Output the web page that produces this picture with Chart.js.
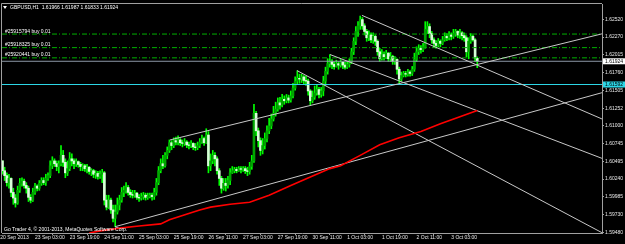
<!DOCTYPE html>
<html><head><meta charset="utf-8">
<script src="https://cdn.jsdelivr.net/npm/chart.js@4.4.0/dist/chart.umd.min.js"></script>
<style>html,body{margin:0;padding:0;background:#000;overflow:hidden}canvas{display:block}</style>
</head><body>
<canvas id="c" width="625" height="244"></canvas>
<script>
// ---- data (GBPUSD, H1) ----
const opens = [
1.6033,1.6050,1.6036,1.6029,1.6019,1.6025,1.6005,1.5997,1.5990,1.6008,
1.6018,1.6021,1.6015,1.6011,1.5998,1.5994,1.6005,1.6014,1.6011,1.6018,
1.6022,1.6019,1.6025,1.6029,1.6043,1.6050,1.6046,1.6042,1.6046,1.6058,
1.6048,1.6033,1.6039,1.6053,1.6050,1.6046,1.6049,1.6045,1.6042,1.6043,
1.6039,1.6041,1.6035,1.6036,1.6031,1.6032,1.6028,1.6031,1.6033,1.5994,
1.5984,1.5994,1.5980,1.5968,1.5977,1.5987,1.5994,1.6005,1.6008,1.6012,
1.6005,1.6002,1.6001,1.6004,1.5998,1.5997,1.5999,1.6001,1.5998,1.5999,
1.6001,1.5999,1.6005,1.6019,1.6036,1.6046,1.6043,1.6058,1.6065,1.6076,
1.6072,1.6079,1.6077,1.6080,1.6076,1.6075,1.6077,1.6073,1.6072,1.6075,
1.6070,1.6069,1.6072,1.6077,1.6082,1.6076,1.6087,1.6043,1.6050,1.6058,
1.6053,1.6036,1.6025,1.6011,1.6018,1.6015,1.6022,1.6033,1.6036,1.6038,
1.6036,1.6039,1.6038,1.6039,1.6036,1.6035,1.6042,1.6050,1.6118,1.6093,
1.6079,1.6065,1.6072,1.6082,1.6093,1.6100,1.6110,1.6118,1.6124,1.6133,
1.6130,1.6138,1.6136,1.6140,1.6137,1.6143,1.6154,1.6164,1.6168,1.6167,
1.6170,1.6165,1.6164,1.6150,1.6136,1.6141,1.6147,1.6152,1.6145,1.6150,
1.6164,1.6178,1.6189,1.6192,1.6188,1.6185,1.6189,1.6187,1.6191,1.6187,
1.6184,1.6188,1.6192,1.6206,1.6221,1.6235,1.6243,1.6252,1.6243,1.6235,
1.6226,1.6230,1.6223,1.6228,1.6221,1.6206,1.6196,1.6202,1.6199,1.6204,
1.6196,1.6199,1.6192,1.6195,1.6181,1.6167,1.6172,1.6175,1.6174,1.6177,
1.6175,1.6181,1.6195,1.6206,1.6211,1.6209,1.6213,1.6238,1.6242,1.6232,
1.6223,1.6218,1.6215,1.6221,1.6218,1.6223,1.6228,1.6226,1.6230,1.6228,
1.6232,1.6235,1.6230,1.6233,1.6229,1.6226,1.6206,1.6221,1.6228,1.6223,
1.61966];
const highs = [
1.6065,1.6050,1.6041,1.6033,1.6031,1.6026,1.6011,1.6002,1.6014,1.6025,
1.6026,1.6024,1.6019,1.6014,1.6002,1.6011,1.6018,1.6016,1.6022,1.6026,
1.6026,1.6031,1.6033,1.6050,1.6056,1.6053,1.6050,1.6050,1.6072,1.6065,
1.6053,1.6050,1.6062,1.6060,1.6053,1.6053,1.6050,1.6048,1.6046,1.6045,
1.6045,1.6042,1.6039,1.6038,1.6036,1.6035,1.6036,1.6038,1.6035,1.6001,
1.6001,1.5997,1.5987,1.5987,1.5997,1.6001,1.6012,1.6014,1.6019,1.6015,
1.6009,1.6008,1.6008,1.6005,1.6002,1.6004,1.6005,1.6004,1.6004,1.6004,
1.6004,1.6011,1.6025,1.6042,1.6053,1.6058,1.6062,1.6070,1.6080,1.6079,
1.6083,1.6084,1.6086,1.6082,1.6080,1.6082,1.6079,1.6077,1.6079,1.6076,
1.6075,1.6077,1.6082,1.6087,1.6084,1.6096,1.6092,1.6060,1.6065,1.6062,
1.6056,1.6039,1.6028,1.6025,1.6025,1.6028,1.6039,1.6042,1.6041,1.6041,
1.6042,1.6042,1.6042,1.6042,1.6041,1.6048,1.6058,1.6131,1.6121,1.6097,
1.6083,1.6082,1.6090,1.6100,1.6111,1.6117,1.6128,1.6134,1.6140,1.6141,
1.6145,1.6143,1.6145,1.6144,1.6150,1.6161,1.6170,1.6179,1.6174,1.6174,
1.6172,1.6171,1.6167,1.6152,1.6150,1.6157,1.6158,1.6155,1.6155,1.6171,
1.6184,1.6196,1.6202,1.6195,1.6192,1.6194,1.6192,1.6195,1.6192,1.6191,
1.6192,1.6196,1.6211,1.6226,1.6242,1.6249,1.6257,1.6255,1.6246,1.6238,
1.6236,1.6233,1.6233,1.6230,1.6223,1.6211,1.6209,1.6206,1.6208,1.6205,
1.6205,1.6201,1.6199,1.6196,1.6184,1.6177,1.6178,1.6178,1.6181,1.6179,
1.6185,1.6204,1.6213,1.6216,1.6215,1.6218,1.6249,1.6249,1.6246,1.6235,
1.6226,1.6222,1.6225,1.6223,1.6228,1.6233,1.6232,1.6235,1.6233,1.6238,
1.6238,1.6236,1.6238,1.6235,1.6233,1.6229,1.6226,1.6232,1.6230,1.6225,
1.61987];
const lows = [
1.6028,1.6031,1.6022,1.6014,1.6011,1.5999,1.5988,1.5984,1.5988,1.6005,
1.6014,1.6011,1.6004,1.5992,1.5990,1.5992,1.6002,1.6007,1.6008,1.6015,
1.6016,1.6015,1.6022,1.6026,1.6039,1.6042,1.6036,1.6033,1.6043,1.6042,
1.6026,1.6029,1.6036,1.6043,1.6039,1.6042,1.6041,1.6036,1.6036,1.6035,
1.6033,1.6031,1.6029,1.6026,1.6025,1.6024,1.6025,1.6019,1.5987,1.5980,
1.5982,1.5975,1.5963,1.5956,1.5974,1.5980,1.5991,1.5999,1.6004,1.6001,
1.5998,1.5997,1.5998,1.5995,1.5992,1.5994,1.5995,1.5994,1.5995,1.5997,
1.5994,1.5995,1.6001,1.6016,1.6033,1.6039,1.6041,1.6053,1.6062,1.6066,
1.6069,1.6073,1.6073,1.6072,1.6070,1.6072,1.6069,1.6067,1.6069,1.6066,
1.6065,1.6066,1.6069,1.6075,1.6072,1.6075,1.6033,1.6036,1.6046,1.6043,
1.6031,1.6015,1.6004,1.6008,1.6007,1.6011,1.6016,1.6032,1.6033,1.6033,
1.6035,1.6033,1.6035,1.6032,1.6029,1.6031,1.6038,1.6048,1.6086,1.6070,
1.6058,1.6060,1.6067,1.6077,1.6089,1.6096,1.6107,1.6114,1.6121,1.6124,
1.6127,1.6131,1.6133,1.6133,1.6134,1.6140,1.6151,1.6160,1.6161,1.6162,
1.6160,1.6158,1.6144,1.6130,1.6133,1.6138,1.6144,1.6140,1.6141,1.6143,
1.6158,1.6174,1.6184,1.6182,1.6181,1.6184,1.6181,1.6184,1.6182,1.6181,
1.6182,1.6184,1.6189,1.6202,1.6216,1.6228,1.6238,1.6238,1.6230,1.6221,
1.6222,1.6219,1.6218,1.6215,1.6201,1.6192,1.6194,1.6194,1.6196,1.6192,
1.6192,1.6188,1.6188,1.6174,1.6161,1.6164,1.6170,1.6170,1.6171,1.6171,
1.6172,1.6178,1.6192,1.6202,1.6204,1.6206,1.6211,1.6232,1.6226,1.6218,
1.6212,1.6211,1.6213,1.6213,1.6216,1.6221,1.6222,1.6223,1.6223,1.6225,
1.6228,1.6226,1.6225,1.6223,1.6221,1.6199,1.6196,1.6218,1.6221,1.6192,
1.61833];
const closes = [
1.6050,1.6036,1.6029,1.6019,1.6025,1.6005,1.5997,1.5990,1.6008,1.6018,
1.6021,1.6015,1.6011,1.5998,1.5994,1.6005,1.6014,1.6011,1.6018,1.6022,
1.6019,1.6025,1.6029,1.6043,1.6050,1.6046,1.6042,1.6046,1.6058,1.6048,
1.6033,1.6039,1.6053,1.6050,1.6046,1.6049,1.6045,1.6042,1.6043,1.6039,
1.6041,1.6035,1.6036,1.6031,1.6032,1.6028,1.6031,1.6033,1.5994,1.5984,
1.5994,1.5980,1.5968,1.5977,1.5987,1.5994,1.6005,1.6008,1.6012,1.6005,
1.6002,1.6001,1.6004,1.5998,1.5997,1.5999,1.6001,1.5998,1.5999,1.6001,
1.5999,1.6005,1.6019,1.6036,1.6046,1.6043,1.6058,1.6065,1.6076,1.6072,
1.6079,1.6077,1.6080,1.6076,1.6075,1.6077,1.6073,1.6072,1.6075,1.6070,
1.6069,1.6072,1.6077,1.6082,1.6076,1.6087,1.6043,1.6050,1.6058,1.6053,
1.6036,1.6025,1.6011,1.6018,1.6015,1.6022,1.6033,1.6036,1.6038,1.6036,
1.6039,1.6038,1.6039,1.6036,1.6035,1.6042,1.6050,1.6118,1.6093,1.6079,
1.6065,1.6072,1.6082,1.6093,1.6100,1.6110,1.6118,1.6124,1.6133,1.6130,
1.6138,1.6136,1.6140,1.6137,1.6143,1.6154,1.6164,1.6168,1.6167,1.6170,
1.6165,1.6164,1.6150,1.6136,1.6141,1.6147,1.6152,1.6145,1.6150,1.6164,
1.6178,1.6189,1.6192,1.6188,1.6185,1.6189,1.6187,1.6191,1.6187,1.6184,
1.6188,1.6192,1.6206,1.6221,1.6235,1.6243,1.6252,1.6243,1.6235,1.6226,
1.6230,1.6223,1.6228,1.6221,1.6206,1.6196,1.6202,1.6199,1.6204,1.6196,
1.6199,1.6192,1.6195,1.6181,1.6167,1.6172,1.6175,1.6174,1.6177,1.6175,
1.6181,1.6195,1.6206,1.6211,1.6209,1.6213,1.6238,1.6242,1.6232,1.6223,
1.6218,1.6215,1.6221,1.6218,1.6223,1.6228,1.6226,1.6230,1.6228,1.6232,
1.6235,1.6230,1.6233,1.6229,1.6226,1.6206,1.6221,1.6228,1.6223,1.6197,
1.61924];

// moving average (red), sampled bar positions
const maBars   = [41, 46, 55, 64, 74, 78, 83, 88, 92, 97, 106, 115, 124, 134, 143, 152, 157, 166, 175, 184, 194, 203, 212, 220];
const maValues = [1.5947,1.5950,1.5954,1.5957,1.5960,1.5966,1.5971,1.5976,1.5980,1.5984,1.5988,1.5991,1.6001,1.6015,1.6027,1.6039,1.6043,1.6058,1.6073,1.6083,1.6092,1.6103,1.6113,1.6122];

// trend lines (anchor bar, price) -> (end bar, price)
const trendX1 = [52.9, 78.3, 166.8, 152.1, 136.9];
const trendY1 = [1.5956, 1.6080, 1.6258, 1.6202, 1.6179];
const trendX2 = [277.5, 277.5, 277.5, 277.5, 277.5];
const trendY2 = [1.61475, 1.62316, 1.6110, 1.60537, 1.59475];

// horizontal levels
const orderPrices = [1.62313, 1.62119, 1.61973];
const orderLabels = ['#25915794 buy 0.01', '#25918325 buy 0.01', '#25920441 buy 0.01'];
const bidPrice = 1.61924;
const levelPrice = 1.61592;

// axes
const xTickBars = [0, 16, 32, 48, 64, 80, 96, 112, 128, 144, 160, 176, 192, 208];
const xTickLabels = ['20 Sep 2013','23 Sep 03:00','23 Sep 19:00','24 Sep 11:00','25 Sep 03:00','25 Sep 19:00','26 Sep 11:00','27 Sep 03:00','27 Sep 19:00','30 Sep 11:00','1 Oct 03:00','1 Oct 19:00','2 Oct 11:00','3 Oct 03:00'];
const yTickValues = [1.62520,1.62270,1.62015,1.61760,1.61505,1.61252,1.61000,1.60745,1.60495,1.60240,1.59985,1.59730,1.59480];
const xMin = 0.784, xMax = 277.53;
const yMin = 1.594701, yMax = 1.627425;

const titleText = 'GBPUSD,H1  1.61966 1.61987 1.61833 1.61924';
const copyText = 'Go Trader 4, \u00a9 2001-2013, MetaQuotes Software Corp.';

// ---- build ----
const FONT = '"Liberation Sans", Arial, sans-serif';
const bars = closes.map((c, i) => i);
const bull = i => closes[i] >= opens[i];

const datasets = [];
datasets.push({
  type: 'bar', label: 'wick', order: 20, grouped: false, barThickness: 1,
  data: bars.map(i => ({x: i, y: [lows[i], highs[i]]})),
  backgroundColor: '#00ff00', borderWidth: 0
});
datasets.push({
  type: 'bar', label: 'body', order: 19, grouped: false, barThickness: 2,
  data: bars.map(i => ({x: i, y: [opens[i], closes[i]]})),
  backgroundColor: ctx => bull(ctx.dataIndex) ? '#00a400' : '#d8ffd8', borderWidth: 0
});
orderPrices.forEach(p => datasets.push({
  type: 'line', order: 5, data: [{x: xMin, y: p}, {x: xMax, y: p}],
  borderColor: '#00b000', borderWidth: 1, borderDash: [5, 2, 1, 2], pointRadius: 0
}));
datasets.push({
  type: 'line', order: 4, data: [{x: xMin, y: bidPrice}, {x: xMax, y: bidPrice}],
  borderColor: '#8c98a6', borderWidth: 1, pointRadius: 0
});
datasets.push({
  type: 'line', order: 4, data: [{x: xMin, y: levelPrice}, {x: xMax, y: levelPrice}],
  borderColor: '#2cd6e6', borderWidth: 1, pointRadius: 0
});
trendX1.forEach((x1, k) => datasets.push({
  type: 'line', order: 3, data: [{x: x1, y: trendY1[k]}, {x: trendX2[k], y: trendY2[k]}],
  borderColor: '#c8c8c8', borderWidth: 1, pointRadius: 0
}));
datasets.push({
  type: 'line', order: 2, data: maBars.map((b, k) => ({x: b, y: maValues[k]})),
  borderColor: '#ff0000', borderWidth: 1.6, pointRadius: 0, tension: 0
});

const overlay = {
  id: 'overlay',
  beforeDatasetsDraw(chart) {
    const {ctx, chartArea: a} = chart;
    ctx.save();
    ctx.strokeStyle = '#a0a0a0';
    ctx.lineWidth = 1;
    ctx.beginPath();
    ctx.moveTo(a.left - 0.5, a.bottom);
    ctx.lineTo(a.left - 0.5, a.top - 0.5);
    ctx.lineTo(a.right, a.top - 0.5);
    ctx.stroke();
    ctx.restore();
  },
  afterDatasetsDraw(chart) {
    const {ctx, chartArea: a, scales: {y}} = chart;
    ctx.save();
    ctx.fillStyle = '#ffffff';
    ctx.font = '5px ' + FONT;
    ctx.textBaseline = 'middle';
    ctx.textAlign = 'left';
    ctx.fillText(titleText, a.left + 8, a.top + 3.5);
    ctx.beginPath();
    ctx.moveTo(a.left + 1, a.top + 2);
    ctx.lineTo(a.left + 5, a.top + 2);
    ctx.lineTo(a.left + 3, a.top + 5);
    ctx.closePath();
    ctx.fill();
    ctx.textBaseline = 'alphabetic';
    orderPrices.forEach((p, k) => ctx.fillText(orderLabels[k], a.left + 3, y.getPixelForValue(p) - 1.5));
    ctx.textBaseline = 'middle';
    ctx.fillText(copyText, a.left + 2, a.bottom - 3.5);
    ctx.restore();
  },
  afterDraw(chart) {
    const {ctx, chartArea: a, scales: {y}} = chart;
    ctx.save();
    ctx.font = '5px ' + FONT;
    ctx.textBaseline = 'middle';
    [[bidPrice, '#ffffff'], [levelPrice, '#2cd6e6']].forEach(([p, col]) => {
      const py = y.getPixelForValue(p);
      ctx.fillStyle = col;
      ctx.fillRect(a.right + 1, py - 3, 625 - a.right - 1, 6);
      ctx.fillStyle = '#000000';
      ctx.fillText(p.toFixed(5), a.right + 3, py + 0.3);
    });
    ctx.restore();
  }
};

new Chart(document.getElementById('c'), {
  type: 'bar',
  data: {datasets},
  plugins: [overlay],
  options: {
    responsive: false, animation: false, devicePixelRatio: 1,
    layout: {padding: {left: 2, top: 2, right: 0, bottom: 0}},
    plugins: {legend: {display: false}, tooltip: {enabled: false}},
    scales: {
      x: {
        type: 'linear', position: 'bottom', min: xMin, max: xMax, bounds: 'data', offset: false,
        afterFit: s => { s.height = 11; },
        afterBuildTicks: s => { s.ticks = xTickBars.map(v => ({value: v})); },
        grid: {display: true, drawOnChartArea: false, drawTicks: true, tickLength: 2, color: '#a0a0a0'},
        border: {display: true, color: '#a0a0a0'},
        ticks: {autoSkip: false, maxRotation: 0, minRotation: 0, align: 'start', padding: 0,
          color: '#e8e8e8', font: {size: 5, family: FONT},
          callback: (v, i) => xTickLabels[i]}
      },
      y: {
        type: 'linear', position: 'right', min: yMin, max: yMax, bounds: 'data',
        afterFit: s => { s.width = 23; },
        afterBuildTicks: s => { s.ticks = yTickValues.map(v => ({value: v})); },
        grid: {display: true, drawOnChartArea: false, drawTicks: true, tickLength: 2, color: '#a0a0a0'},
        border: {display: true, color: '#a0a0a0'},
        ticks: {autoSkip: false, padding: 1, color: '#e8e8e8', font: {size: 5, family: FONT},
          callback: v => v.toFixed(5)}
      }
    }
  }
});
</script>
</body></html>
